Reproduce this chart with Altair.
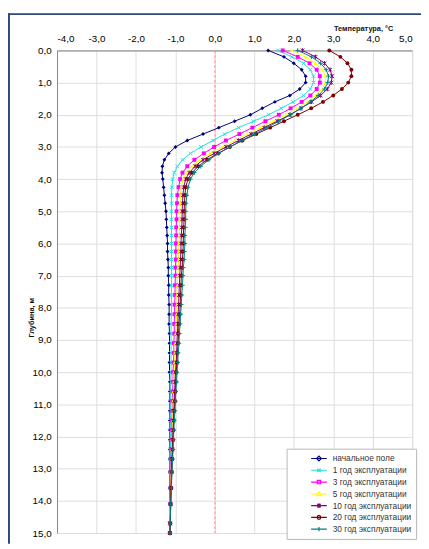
import altair as alt
import pandas as pd

# ---------------- data ----------------
depth = [0.0, 0.2, 0.4, 0.6, 0.8, 1.0, 1.2, 1.4, 1.6, 1.8, 2.0, 2.2, 2.4, 2.6, 2.8, 3.0, 3.2, 3.4, 3.6, 3.8, 4.0,
         4.25, 4.5, 4.75, 5.0, 5.25, 5.5, 5.75, 6.0, 6.25, 6.5, 6.75, 7.0,
         7.3, 7.6, 7.9, 8.2, 8.5, 8.8, 9.1, 9.4, 9.7, 10.0, 10.3, 10.6, 10.9, 11.2, 11.5, 11.8, 12.1, 12.4, 12.7,
         13.1, 13.6, 14.1, 14.7, 15.0]

t_initial = [1.35, 1.75, 2.0, 2.2, 2.3, 2.3, 2.15, 1.9, 1.52, 1.2, 0.9, 0.5, 0.1, -0.3, -0.7, -1.0, -1.17, -1.28, -1.33, -1.34, -1.32,
             -1.3, -1.28, -1.26, -1.24,
             -1.23, -1.22, -1.21, -1.20, -1.20, -1.19, -1.18, -1.18, -1.17, -1.17, -1.16, -1.16, -1.16, -1.15, -1.15, -1.15,
             -1.15, -1.15, -1.14, -1.14, -1.14, -1.14, -1.14, -1.14, -1.14, -1.14, -1.14, -1.14, -1.14, -1.14, -1.14, -1.14]
t_year1 = [1.6, 1.95, 2.25, 2.42, 2.5, 2.5, 2.42, 2.25, 1.98, 1.68, 1.36, 0.98, 0.6, 0.25, -0.05, -0.35, -0.62, -0.82, -0.95, -1.03, -1.07,
           -1.09, -1.1, -1.1, -1.1,
           -1.10, -1.10, -1.10, -1.10, -1.10, -1.10, -1.10, -1.10, -1.10, -1.10, -1.10, -1.10, -1.11, -1.11, -1.11, -1.11,
           -1.11, -1.11, -1.11, -1.12, -1.12, -1.12, -1.12, -1.12, -1.12, -1.13, -1.13, -1.13, -1.13, -1.14, -1.14, -1.14]
t_year3 = [1.72, 2.1, 2.4, 2.58, 2.66, 2.66, 2.58, 2.42, 2.2, 1.92, 1.62, 1.28, 0.95, 0.62, 0.28, -0.02, -0.28, -0.52, -0.7, -0.82, -0.88,
           -0.92, -0.95, -0.96, -0.97,
           -0.97, -0.98, -0.98, -0.99, -0.99, -0.99, -1.0, -1.0, -1.01, -1.01, -1.02, -1.02, -1.03, -1.03, -1.04, -1.04,
           -1.05, -1.06, -1.06, -1.07, -1.08, -1.08, -1.09, -1.09, -1.1, -1.1, -1.11, -1.12, -1.12, -1.13, -1.14, -1.14]
t_year5 = [1.95, 2.3, 2.55, 2.72, 2.8, 2.8, 2.72, 2.56, 2.35, 2.08, 1.8, 1.48, 1.15, 0.82, 0.5, 0.18, -0.12, -0.38, -0.58, -0.72, -0.8,
           -0.85, -0.87, -0.88, -0.89,
           -0.89, -0.9, -0.9, -0.91, -0.92, -0.92, -0.93, -0.94, -0.95, -0.96, -0.96, -0.97, -0.98, -0.99, -1.0, -1.01,
           -1.02, -1.03, -1.04, -1.05, -1.06, -1.06, -1.07, -1.08, -1.09, -1.1, -1.1, -1.11, -1.12, -1.13, -1.14, -1.14]
t_year10 = [2.22, 2.55, 2.78, 2.92, 2.97, 2.95, 2.85, 2.68, 2.45, 2.18, 1.9, 1.58, 1.25, 0.92, 0.6, 0.28, -0.02, -0.3, -0.5, -0.65, -0.74,
            -0.79, -0.81, -0.82, -0.83,
            -0.83, -0.84, -0.85, -0.86, -0.86, -0.87, -0.88, -0.89, -0.9, -0.91, -0.92, -0.93, -0.94, -0.95, -0.96, -0.97,
            -0.98, -1.0, -1.01, -1.02, -1.03, -1.04, -1.05, -1.06, -1.07, -1.08, -1.09, -1.1, -1.11, -1.12, -1.13, -1.14]
t_year20 = [2.9, 3.18, 3.36, 3.46, 3.46, 3.38, 3.22, 3.0, 2.74, 2.44, 2.1, 1.75, 1.4, 1.05, 0.7, 0.38, 0.08, -0.2, -0.42, -0.58, -0.68,
            -0.74, -0.76, -0.77, -0.78,
            -0.78, -0.79, -0.8, -0.8, -0.81, -0.82, -0.83, -0.85, -0.86, -0.87, -0.88, -0.89, -0.91, -0.92, -0.93, -0.95,
            -0.96, -0.98, -0.99, -1.0, -1.01, -1.03, -1.04, -1.05, -1.06, -1.07, -1.08, -1.09, -1.11, -1.12, -1.13, -1.14]
t_year30 = [2.1, 2.45, 2.68, 2.82, 2.88, 2.86, 2.78, 2.62, 2.42, 2.18, 1.92, 1.62, 1.32, 1.0, 0.68, 0.38, 0.1, -0.15, -0.36, -0.52, -0.62,
            -0.68, -0.71, -0.73, -0.74,
            -0.74, -0.75, -0.76, -0.76, -0.77, -0.78, -0.8, -0.81, -0.82, -0.84, -0.85, -0.87, -0.88, -0.9, -0.91, -0.93,
            -0.94, -0.96, -0.97, -0.99, -1.0, -1.01, -1.03, -1.04, -1.05, -1.06, -1.07, -1.09, -1.1, -1.12, -1.13, -1.14]

series_names = ["начальное поле", "1 год эксплуатации", "3 год эксплуатации", "5 год эксплуатации",
                "10 год эксплуатации", "20 год эксплуатации", "30 год эксплуатации"]
series_values = [t_initial, t_year1, t_year3, t_year5, t_year10, t_year20, t_year30]

x_ticks = [-4, -3, -2, -1, 0, 1, 2, 3, 4, 5]
y_ticks = [0, 1, 2, 3, 4, 5, 6, 7, 8, 9, 10, 11, 12, 13, 14, 15]
zero_line = [0.0]

# ---------------- styling ----------------
colors = ["#000080", "#22e0e0", "#ff00ff", "#ffff00", "#800080", "#800000", "#008080"]
plot_shapes = ["diamond", "M-1,-1L1,1M-1,1L1,-1", "square", "triangle-up",
               "M-1,-1L1,1M-1,1L1,-1M0,-1.2V1.2", "circle", "M-1.2,0H1.2M0,-1.2V1.2"]
plot_filled = [True, False, True, True, False, True, False]
# legend symbols: a short line with the marker in its middle (drawn shifted right inside the box)
legend_shapes = [
    "M1.5,0H3.5M2.5,-0.3L2.8,0L2.5,0.3L2.2,0Z",
    "M1.5,0H3.5M2.28,-0.22L2.72,0.22M2.28,0.22L2.72,-0.22",
    "M1.5,0H3.5M2.28,-0.22H2.72V0.22H2.28Z",
    "M1.5,0H3.5M2.5,-0.28L2.78,0.22H2.22Z",
    "M1.5,0H3.5M2.28,-0.22L2.72,0.22M2.28,0.22L2.72,-0.22M2.5,-0.3V0.3",
    "M1.5,0H3.5M2.26,0L2.33,-0.17L2.5,-0.24L2.67,-0.17L2.74,0L2.67,0.17L2.5,0.24L2.33,0.17Z",
    "M1.5,0H3.5M2.5,-0.28V0.28",
]

rows = []
for k, (name, vals) in enumerate(zip(series_names, series_values)):
    for d, t in zip(depth, vals):
        rows.append({"series": name, "k": k, "depth": d, "temp": t})
df = pd.DataFrame(rows)

label_expr = "replace(replace(format(datum.value, '.1f'), '.', ','), '\u2212', '-')"
xscale = alt.Scale(domain=[-4, 5], nice=False, zero=False)
yscale = alt.Scale(domain=[0, 15], reverse=True, nice=False, zero=False)

xaxis = alt.Axis(orient="top", values=x_ticks, labelExpr=label_expr, title="Температура, °C",
                 ticks=False, labelPadding=7, labelOverlap=False, grid=True,
                 titleX=312, titleY=-22, titleAlign="center",
                 titleBaseline="middle", titleFontWeight="bold", titleFontSize=7.5, titleColor="#111")
yaxis = alt.Axis(orient="left", values=y_ticks, labelExpr=label_expr, title="Глубина, м",
                 ticks=False, labelPadding=6, labelOverlap=False, grid=True,
                 titleX=-26, titleY=272, titleAngle=-90,
                 titleAlign="center", titleBaseline="middle", titleFontWeight="bold",
                 titleFontSize=7.5, titleColor="#111")

X = alt.X("temp:Q", scale=xscale, axis=xaxis)
Y = alt.Y("depth:Q", scale=yscale, axis=yaxis)

zero = alt.Chart(pd.DataFrame({"temp": zero_line})).mark_rule(
    color="#ff8a8a", strokeDash=[3, 2], strokeWidth=1).encode(x=X)

series_layers = []
for name, col, shp, fl in zip(series_names, colors, plot_shapes, plot_filled):
    base = alt.Chart(df).transform_filter(alt.datum.series == name)
    ln = base.mark_line(strokeWidth=1, color=col, clip=True).encode(
        x=X, y=Y, order=alt.Order("depth:Q"))
    if fl:
        mk = base.mark_point(shape=shp, filled=True, size=16, color=col, opacity=1)
    else:
        mk = base.mark_point(shape=shp, filled=False, size=14, color=col, strokeWidth=1, opacity=1)
    series_layers.append(ln)
    series_layers.append(mk.encode(x=X, y=Y))

leg = alt.Legend(title=None, orient="none", legendX=234, legendY=406,
                 fillColor="white", strokeColor="#b8b8b8", padding=4,
                 symbolSize=256, symbolStrokeWidth=1.2, clipHeight=12, rowPadding=0,
                 labelOffset=25, labelFontSize=8.5,
                 labelFont="Liberation Sans", labelColor="#333")
legend_df = pd.DataFrame({"series": series_names, "temp": [0.0] * 7, "depth": [-5.0] * 7})
legend_layer = alt.Chart(legend_df).mark_point(filled=False, clip=True, opacity=1, size=256).encode(
    x=X, y=Y,
    color=alt.Color("series:N", scale=alt.Scale(domain=series_names, range=colors), legend=leg),
    shape=alt.Shape("series:N", scale=alt.Scale(domain=series_names, range=legend_shapes), legend=leg),
)

frame_df = pd.DataFrame({"a": [0]})
frame_left = alt.Chart(frame_df).mark_rule(color="#2c4a78", strokeWidth=2).encode(
    x=alt.value(-49), y=alt.value(-38), y2=alt.value(503))
frame_top = alt.Chart(frame_df).mark_rule(color="#2c4a78", strokeWidth=2).encode(
    x=alt.value(-50), x2=alt.value(372), y=alt.value(-37))

chart = alt.layer(zero, *series_layers, legend_layer, frame_left, frame_top).properties(
    width=362, height=492,
    autosize=alt.AutoSizeParams(type="none"),
    padding={"left": 50, "top": 38, "right": 9, "bottom": 11},
).configure_axis(
    labelFont="Liberation Sans", labelFontSize=6.5, labelColor="#707070",
    titleFont="Liberation Sans",
    gridColor="#dddddd", gridWidth=1, domainColor="#d0d0d0",
).configure_view(stroke=None).configure(background="white")

chart.save("out.html", embed_options={"renderer": "svg", "actions": False})
